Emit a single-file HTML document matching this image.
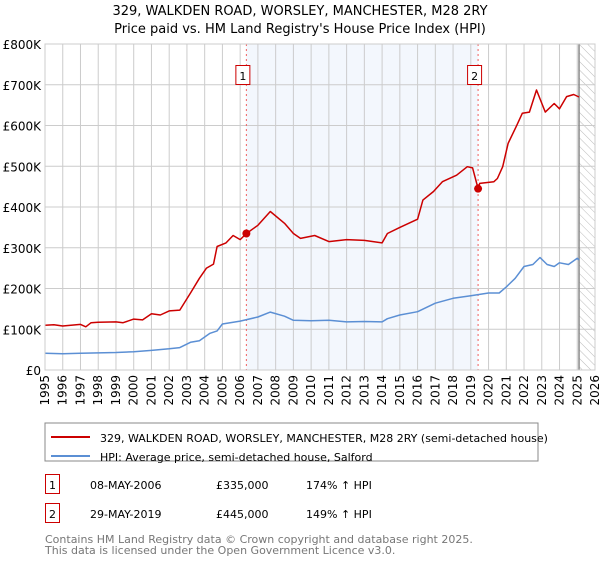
<!DOCTYPE html>
<html><head><meta charset="utf-8"><style>
body{margin:0;background:#fff;width:600px;height:560px;overflow:hidden;font-family:"DejaVu Sans","Liberation Sans",sans-serif}
svg text{font-family:"DejaVu Sans","Liberation Sans",sans-serif}
</style></head><body>
<svg id="c" width="600" height="560">
<defs><pattern id="hatch" width="6" height="6" patternUnits="userSpaceOnUse" patternTransform="rotate(-45)"><line x1="0" y1="0" x2="0" y2="6" stroke="#bbb" stroke-width="1"/></pattern></defs>
<text x="300" y="15" text-anchor="middle" font-size="13">329, WALKDEN ROAD, WORSLEY, MANCHESTER, M28 2RY</text>
<text x="300" y="33" text-anchor="middle" font-size="13">Price paid vs. HM Land Registry's House Price Index (HPI)</text>
<g id="grid"></g><g id="marks"></g>
<rect x="45" y="423" width="493" height="38" fill="none" stroke="#888"/>
<line x1="51" y1="437" x2="90" y2="437" stroke="#cc0000" stroke-width="2"/>
<text x="100" y="442" font-size="11">329, WALKDEN ROAD, WORSLEY, MANCHESTER, M28 2RY (semi-detached house)</text>
<line x1="51" y1="456" x2="90" y2="456" stroke="#5b8fd4" stroke-width="2"/>
<text x="100" y="461" font-size="11">HPI: Average price, semi-detached house, Salford</text>
<g font-size="11">
<rect x="45.5" y="474.5" width="14" height="19" fill="#fff" stroke="#cc0000"/>
<text x="52.5" y="489" text-anchor="middle">1</text>
<text x="90" y="489">08-MAY-2006</text>
<text x="216" y="489">£335,000</text>
<text x="306" y="489">174% ↑ HPI</text>
<rect x="45.5" y="503.5" width="14" height="19" fill="#fff" stroke="#cc0000"/>
<text x="52.5" y="518" text-anchor="middle">2</text>
<text x="90" y="518">29-MAY-2019</text>
<text x="216" y="518">£445,000</text>
<text x="306" y="518">149% ↑ HPI</text>
</g>
<text x="45" y="543" font-size="11" fill="#777"><tspan x="45" y="543">Contains HM Land Registry data © Crown copyright and database right 2025.</tspan><tspan x="45" y="554">This data is licensed under the Open Government Licence v3.0.</tspan></text>
</svg>
<script>
const yTicks=[0,100,200,300,400,500,600,700,800];
const yTickLabels=["£0","£100K","£200K","£300K","£400K","£500K","£600K","£700K","£800K"];
const years=[1995,1996,1997,1998,1999,2000,2001,2002,2003,2004,2005,2006,2007,2008,2009,2010,2011,2012,2013,2014,2015,2016,2017,2018,2019,2020,2021,2022,2023,2024,2025,2026];
const hpiT=[1995,1996,1997,1998,1999,2000,2001,2002,2002.6,2003.2,2003.7,2004.3,2004.7,2005,2006,2007,2007.7,2008.5,2009,2010,2011,2012,2013,2014,2014.3,2015,2016,2017,2018,2019,2020,2020.6,2021,2021.5,2022,2022.5,2022.9,2023.3,2023.7,2024,2024.5,2025,2025.1];
const hpiV=[41,40,41,42,43,45,48,52,55,68,72,90,96,113,120,130,142,132,122,121,122,118,119,118,126,135,143,164,176,182,189,189,204,225,254,259,276,259,254,263,259,274,270];
const propT=[1995,1995.5,1996,1997,1997.3,1997.6,1998,1999,1999.4,2000,2000.5,2001,2001.5,2002,2002.6,2003.2,2003.7,2004.1,2004.5,2004.7,2005.2,2005.6,2006,2006.35,2007,2007.7,2008.5,2009,2009.4,2010.2,2011,2012,2013,2014,2014.3,2015,2016,2016.3,2016.9,2017.4,2018.2,2018.8,2019.1,2019.41,2019.5,2020.3,2020.5,2020.8,2021.1,2021.6,2021.9,2022.3,2022.7,2023.2,2023.7,2024,2024.4,2024.8,2025.1];
const propV=[110,111,108,112,106,116,117,118,116,125,123,138,135,145,147,189,225,250,260,303,312,330,320,335,355,389,360,335,323,330,315,320,318,312,335,350,370,417,438,462,478,499,496,445,458,462,470,499,556,601,630,633,687,633,654,641,671,676,670];
const sales=[{t:2006.35,v:335,n:"1"},{t:2019.41,v:445,n:"2"}];
const X0=45,X1=595,Y0=370,Y1=44;
const x=t=>X0+(t-1995)/(2026-1995)*(X1-X0);
const y=v=>Y0-v/800*(Y0-Y1);
const NS="http://www.w3.org/2000/svg";
const grid=document.getElementById('grid'),marks=document.getElementById('marks');
function mk(tag,attrs,parent){const e=document.createElementNS(NS,tag);for(const k in attrs)e.setAttribute(k,attrs[k]);parent.appendChild(e);return e;}
const band=mk('rect',{x:x(sales[0].t),y:Y1,width:x(sales[1].t)-x(sales[0].t),height:Y0-Y1,fill:'#eef3fc',opacity:0.7},grid);


const hat=mk('rect',{x:x(2025.1),y:Y1,width:X1-x(2025.1),height:Y0-Y1,fill:'url(#hatch)'},grid);


yTicks.forEach((v,i)=>{
 const l=mk('line',{x1:X0,x2:X1,y1:y(v),y2:y(v),stroke:'#ccc'},grid);
 
 
 const t=mk('text',{x:X0-4,y:y(v)+5,'text-anchor':'end','font-size':12},grid);t.textContent=yTickLabels[i];
 
 
});
years.forEach(yr=>{
 const l=mk('line',{x1:x(yr),x2:x(yr),y1:Y1,y2:Y0,stroke:'#ccc'},grid);
 
 
 const t=mk('text',{x:0,y:0,'text-anchor':'end','font-size':12,transform:`translate(${x(yr)+4},${Y0+5}) rotate(-90)`},grid);t.textContent=yr;
 
 
});
const ln=mk('line',{x1:x(2025.1),x2:x(2025.1),y1:Y1,y2:Y0,stroke:'#888','stroke-width':1.5},grid);


sales.forEach(s=>{
 const d=mk('line',{x1:x(s.t),x2:x(s.t),y1:Y1,y2:Y0,stroke:'#f06060','stroke-dasharray':'2,3'},marks);
 
 
});
function path(T,V,color,name){
 const p=mk('path',{d:T.map((t,i)=>(i?'L':'M')+x(t).toFixed(1)+','+y(V[i]).toFixed(1)).join(''),fill:'none',stroke:color,'stroke-width':1.5,'stroke-linejoin':'round'},marks);
 
 
}
path(hpiT,hpiV,'#5b8fd4','hpi-line');
path(propT,propV,'#cc0000','property-price-line');
sales.forEach(s=>{
 const c=mk('circle',{cx:x(s.t),cy:y(s.v),r:4,fill:'#cc0000'},marks);
 
 
 const b=mk('rect',{x:x(s.t)-10.5,y:65.5,width:14,height:19,fill:'#fff',stroke:'#cc0000'},marks);
 
 
 const t=mk('text',{x:x(s.t)-3.5,y:80,'text-anchor':'middle','font-size':11},marks);t.textContent=s.n;
 
 
});
const fr=mk('rect',{x:X0,y:Y1,width:X1-X0,height:Y0-Y1,fill:'none',stroke:'#ccc'},marks);


</script>
</body></html>
